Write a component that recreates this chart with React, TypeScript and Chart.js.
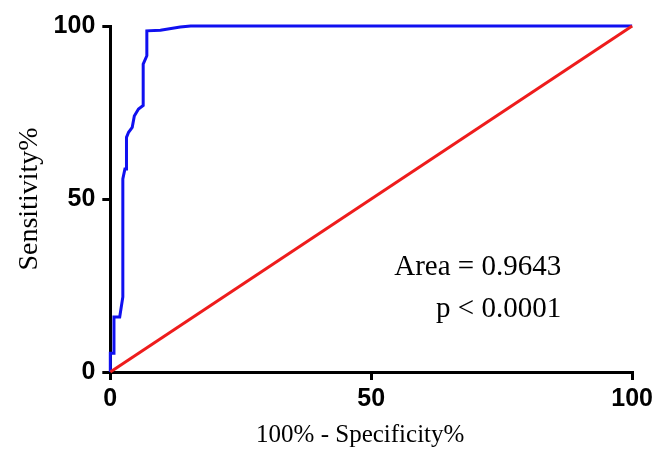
import React, { useEffect, useRef } from "react";
import { Chart, registerables } from "chart.js";

Chart.register(...registerables);

const rocX = [0, 0, 0.7, 0.7, 1.8, 2.4, 2.4, 2.8, 3.1, 3.1, 3.5, 4.2, 4.6, 5.4, 6.3, 6.3, 7.0, 7.0, 9.6, 13.4, 15.4, 100];
const rocY = [0, 5.4, 5.4, 15.9, 15.9, 21.7, 55.8, 58.7, 58.7, 67.8, 69.3, 70.7, 74.0, 76.0, 77.0, 89.0, 91.4, 98.6, 98.8, 99.7, 100, 100];
const refX = [0, 100];
const refY = [0, 100];
const xTicks = [0, 50, 100];
const yTicks = [0, 50, 100];
const xTitle = "100% - Specificity%";
const yTitle = "Sensitivity%";
const annotationLines = ["Area = 0.9643", "p < 0.0001"];
const annotationAnchor = { x: 86.4, y: [28, 16] };

const serif = "'Liberation Serif', 'Times New Roman', serif";

const annotationPlugin = {
  id: "rocAnnotation",
  afterDatasetsDraw(chart: any) {
    const { ctx, scales, chartArea } = chart;
    ctx.save();
    ctx.font = `29px ${serif}`;
    ctx.fillStyle = "#000";
    ctx.textAlign = "right";
    ctx.textBaseline = "alphabetic";
    const px = scales.x.getPixelForValue(annotationAnchor.x);
    annotationLines.forEach((t, i) => {
      ctx.fillText(t, px, scales.y.getPixelForValue(annotationAnchor.y[i]));
    });
    // x-axis title, drawn slightly left of centre as in the reference
    ctx.font = `25px ${serif}`;
    ctx.textAlign = "center";
    ctx.textBaseline = "middle";
    ctx.fillText(xTitle, (chartArea.left + chartArea.right) / 2 - 11, chart.height - 18);
    ctx.restore();
  },
};

export default function App() {
  const ref = useRef<HTMLCanvasElement | null>(null);
  useEffect(() => {
    document.body.style.margin = "0";
    const canvas = ref.current!;
    const chart = new Chart(canvas, {
      type: "line",
      data: {
        datasets: [
          {
            data: refX.map((x, i) => ({ x, y: refY[i] })),
            borderColor: "#ee1c1c",
            borderWidth: 3,
            pointRadius: 0,
            fill: false,
            tension: 0,
            clip: false as any,
          },
          {
            data: rocX.map((x, i) => ({ x, y: rocY[i] })),
            borderColor: "#1010f0",
            borderWidth: 3,
            pointRadius: 0,
            fill: false,
            tension: 0,
            clip: false as any,
          },
        ],
      },
      options: {
        responsive: false,
        animation: false,
        devicePixelRatio: 1,
        layout: { padding: { top: 26, right: 9, bottom: 5, left: 13 } },
        plugins: { legend: { display: false }, tooltip: { enabled: false } },
        scales: {
          x: {
            type: "linear",
            min: 0,
            max: 100,
            afterBuildTicks: (s: any) => {
              s.ticks = xTicks.map((v) => ({ value: v }));
            },
            grid: { display: true, drawOnChartArea: false, drawTicks: true, tickLength: 8, color: "#000", lineWidth: 3 },
            border: { display: true, color: "#000", width: 3 },
            ticks: {
              color: "#000",
              padding: 4,
              maxRotation: 0,
              font: { family: "'Liberation Sans', Arial, sans-serif", size: 25, weight: "bold" },
            },
            title: {
              display: true,
              text: xTitle,
              color: "rgba(0,0,0,0)",
              padding: { top: 0, bottom: 0 },
              font: { family: serif, size: 25 },
            },
          },
          y: {
            type: "linear",
            min: 0,
            max: 100,
            afterBuildTicks: (s: any) => {
              s.ticks = yTicks.map((v) => ({ value: v }));
            },
            grid: { display: true, drawOnChartArea: false, drawTicks: true, tickLength: 8, color: "#000", lineWidth: 3 },
            border: { display: true, color: "#000", width: 3 },
            ticks: {
              color: "#000",
              padding: 7,
              font: { family: "'Liberation Sans', Arial, sans-serif", size: 25, weight: "bold" },
            },
            title: {
              display: true,
              text: yTitle,
              color: "#000",
              padding: { top: 0, bottom: 0 },
              font: { family: serif, size: 28 },
            },
          },
        },
      },
      plugins: [annotationPlugin],
    });
    return () => chart.destroy();
  }, []);
  return <canvas ref={ref} width={657} height={453} style={{ display: "block", width: 657, height: 453 }} />;
}
